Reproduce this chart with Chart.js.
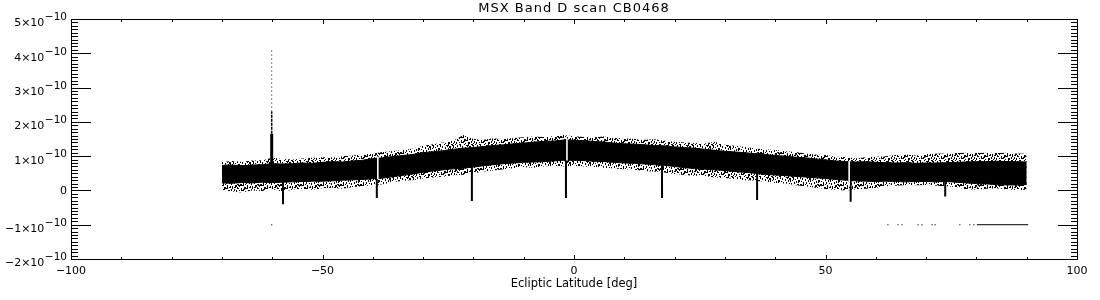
<!DOCTYPE html>
<html><head><meta charset="utf-8">
<script src="https://cdn.jsdelivr.net/npm/chart.js@4.4.1/dist/chart.umd.min.js"></script>
<style>html,body{margin:0;padding:0;background:#fff}canvas{display:block}</style>
</head><body>
<canvas id="c" width="1100" height="300"></canvas>
<script>
// ---------- text / ticks ----------
const chartTitle = 'MSX Band D scan CB0468';
const xAxisTitle = 'Ecliptic Latitude [deg]';
const xTickValues = [-100, -50, 0, 50, 100];
const xTickLabels = ['\u2212100', '\u221250', '0', '50', '100'];
const yTickValues = [-2, -1, 0, 1, 2, 3, 4, 5];          // units of 1e-10
const yTickBase = ['\u22122\u00d710', '\u22121\u00d710', '0', '1\u00d710', '2\u00d710', '3\u00d710', '4\u00d710', '5\u00d710'];
const yTickExp  = ['\u221210', '\u221210', '', '\u221210', '\u221210', '\u221210', '\u221210', '\u221210'];

// ---------- data (values in units of 1e-10) ----------
const lat = [-70,-68,-66,-64,-62,-60,-58,-56,-54,-52,-50,-48,-46,-44,-42,-40,-38,-36,-34,-32,
  -30,-28,-26,-24,-22,-20,-18,-16,-14,-12,-10,-8,-6,-4,-2,0,2,4,6,8,10,12,14,16,18,20,22,24,26,28,
  30,32,34,36,38,40,42,44,46,48,50,52,54,56,58,60,62,64,66,68,70,72,74,76,78,80,82,84,86,88,90];

// dense core of the scan (upper / lower edge)
const coreHigh = [0.73,0.74,0.72,0.74,0.75,0.78,0.77,0.78,0.80,0.79,0.82,0.84,0.83,0.86,0.88,0.93,0.95,0.99,1.02,1.05,
  1.10,1.13,1.16,1.20,1.23,1.25,1.28,1.31,1.33,1.36,1.38,1.41,1.43,1.44,1.47,1.46,1.45,1.43,1.41,1.38,
  1.36,1.35,1.33,1.31,1.30,1.27,1.25,1.23,1.20,1.17,1.14,1.12,1.10,1.07,1.05,1.02,1.00,0.97,0.95,0.92,
  0.89,0.86,0.84,0.83,0.84,0.82,0.81,0.80,0.81,0.79,0.80,0.80,0.81,0.82,0.83,0.84,0.84,0.85,0.84,0.84,0.83];
const coreLow = [0.22,0.21,0.23,0.22,0.24,0.23,0.24,0.25,0.26,0.27,0.27,0.28,0.30,0.31,0.32,0.34,0.36,0.40,0.44,0.48,
  0.53,0.57,0.60,0.63,0.65,0.68,0.72,0.75,0.78,0.80,0.82,0.83,0.84,0.86,0.88,0.88,0.87,0.85,0.84,0.82,
  0.80,0.79,0.77,0.75,0.73,0.70,0.66,0.64,0.62,0.60,0.58,0.55,0.53,0.50,0.47,0.45,0.43,0.41,0.39,0.37,
  0.35,0.32,0.30,0.28,0.27,0.26,0.27,0.26,0.25,0.26,0.26,0.25,0.26,0.24,0.22,0.20,0.19,0.17,0.16,0.16,0.17];

// sparse noise envelope around the core
const noiseHigh = [0.83,0.86,0.84,0.87,0.88,0.95,0.92,0.90,0.93,0.95,0.97,0.96,1.00,1.02,1.05,1.08,1.12,1.15,1.18,1.22,
  1.30,1.35,1.40,1.45,1.62,1.50,1.48,1.52,1.50,1.53,1.55,1.57,1.56,1.58,1.62,1.58,1.56,1.55,1.57,1.53,
  1.52,1.50,1.48,1.49,1.45,1.42,1.40,1.38,1.37,1.42,1.33,1.30,1.27,1.22,1.20,1.18,1.14,1.12,1.08,1.05,
  1.03,0.98,0.97,0.94,0.97,0.98,1.00,1.03,1.05,1.02,1.06,1.08,1.07,1.09,1.10,1.09,1.10,1.09,1.10,1.08,1.07];
const noiseLow = [0.02,-0.03,-0.06,0.00,-0.02,0.04,-0.03,0.02,0.05,0.02,0.06,0.08,0.05,0.10,0.12,0.15,0.18,0.24,0.28,0.30,
  0.35,0.38,0.40,0.44,0.46,0.50,0.55,0.58,0.62,0.65,0.68,0.66,0.70,0.72,0.70,0.72,0.70,0.68,0.66,0.64,
  0.62,0.60,0.57,0.55,0.52,0.48,0.45,0.43,0.42,0.38,0.36,0.33,0.30,0.28,0.25,0.22,0.20,0.15,0.12,0.08,
  0.04,0.02,0.00,0.03,0.05,0.08,0.12,0.14,0.16,0.15,0.16,0.14,0.12,0.10,0.03,0.02,0.05,0.06,0.03,0.01,0.02];

// bright source spike near -60 deg
const spikeLat = -60.1;
const spikeBase = 0.75, spikeDense = 1.65, spikeMid = 2.3, spikeTop = 4.15;

// negative dips (downward streaks)
const dipLat = [-57.85, -39.2, -20.3, -1.6, 17.5, 36.4, 55.0, 73.8];
const dipTop = [0.25, 0.35, 0.68, 0.88, 0.73, 0.50, 0.30, 0.26];
const dipBottom = [-0.40, -0.22, -0.31, -0.22, -0.22, -0.28, -0.33, -0.18];

// data gaps (white columns)
const gapLat = [-39.0, -1.4, 54.7];
const gapTop = [0.99, 1.52, 0.86];
const gapBottom = [0.33, 0.87, 0.12];

// isolated points at -1e-10
const lowPointLat = [-60.1, 62.4, 64.4, 65.2, 68.4, 69.2, 71.2, 71.8, 76.7, 78.7, 79.5];
const lowPointVal = [-1.0, -1.0, -1.0, -1.0, -1.0, -1.0, -1.0, -1.0, -1.0, -1.0, -1.0];
const lowLineLat = [80.1, 90.3];
const lowLineVal = [-1.0, -1.0];

// ---------- helpers ----------
const pts = (xs, ys) => xs.map((x, i) => ({x, y: ys[i]}));
const segs = (xs, lo, hi) => {
  const out = [];
  xs.forEach((x, i) => { out.push({x, y: lo[i]}, {x, y: hi[i]}, {x, y: null}); });
  return out;
};

// streaky stipple pattern (texture only) for the sparse noise region
const tileCols = [
  [[0,3],[8,2]], [[5,1],[8,2],[12,3]], [[2,2],[9,1],[14,1]], [[6,4],[13,2]], [[0,1],[11,3]],
  [[3,2],[8,1],[11,2],[15,1]], [[1,1],[6,2],[12,1]], [[1,2],[9,4]], [[0,2],[4,2],[14,2]], [[2,2],[7,1],[11,1],[14,2]],
  [[2,4],[10,2]], [[0,1],[7,2],[13,2]], [[0,2],[4,1],[10,3]], [[1,3],[15,1]], [[6,2],[11,1],[13,2]],
  [[0,1],[3,1],[9,3]], [[5,2],[9,2],[14,2]], [[1,2],[8,1],[11,2]], [[4,3],[8,2],[12,1]], [[0,1],[4,2],[9,2],[14,1]]
];
const pc = document.createElement('canvas');
pc.width = 20; pc.height = 16;
const pctx = pc.getContext('2d');
pctx.fillStyle = '#000';
tileCols.forEach((col, c) => col.forEach(([r, n]) => pctx.fillRect(c, r, 1, n)));
const stipple = pctx.createPattern(pc, 'repeat');

const FONT = "'DejaVu Sans', sans-serif";
Chart.defaults.font.family = FONT;
Chart.defaults.color = '#000';

const framePlugin = {
  id: 'frame',
  afterDraw(chart) {
    const {ctx, chartArea: a, scales: {x, y}} = chart;
    const L = Math.round(a.left), R = Math.round(a.right), T = Math.round(a.top), B = Math.round(a.bottom);
    ctx.save();
    ctx.fillStyle = '#000';
    ctx.fillRect(L, T, R - L + 1, 1);
    ctx.fillRect(L, B, R - L + 1, 1);
    ctx.fillRect(L, T, 1, B - T + 1);
    ctx.fillRect(R, T, 1, B - T + 1);
    // x ticks: major every 50, minor every 10 (inward, bottom and top)
    for (let v = -100; v <= 100; v += 10) {
      const px = Math.round(x.getPixelForValue(v));
      const len = (v % 50 === 0) ? 5 : 3;
      ctx.fillRect(px, B - len + 1, 1, len);
      ctx.fillRect(px, T, 1, len);
    }
    // y ticks: major every 1, minor every 0.1 (inward, left and right)
    for (let k = -20; k <= 50; k++) {
      const py = Math.round(y.getPixelForValue(k / 10));
      const len = (k % 10 === 0) ? 20 : 7;
      ctx.fillRect(L, py, len, 1);
      ctx.fillRect(R - len + 1, py, len, 1);
    }
    // y tick labels with raised exponent
    ctx.textAlign = 'right';
    ctx.textBaseline = 'middle';
    const xr = L - 4;
    yTickValues.forEach((v, i) => {
      const py = y.getPixelForValue(v);
      if (yTickExp[i]) {
        ctx.font = '10.5px ' + FONT;
        const w = ctx.measureText(yTickExp[i]).width;
        ctx.fillText(yTickExp[i], xr, py - 1.5);
        ctx.font = '11px ' + FONT;
        ctx.fillText(yTickBase[i], xr - w - 0.5, py + 4.5);
      } else {
        ctx.font = '11px ' + FONT;
        ctx.fillText(yTickBase[i], xr, py + 0.5);
      }
    });
    // title
    ctx.font = '13px ' + FONT;
    try { ctx.letterSpacing = '1px'; } catch (e) {}
    ctx.textAlign = 'center';
    ctx.textBaseline = 'middle';
    ctx.fillText(chartTitle, (a.left + a.right) / 2, 9);
    ctx.restore();
  }
};

new Chart(document.getElementById('c'), {
  type: 'line',
  data: {
    datasets: [
      {data: pts(lat, noiseLow), borderColor: 'rgba(0,0,0,0)', borderWidth: 1, pointRadius: 0, fill: false, order: 5},
      {data: pts(lat, noiseHigh), borderColor: 'rgba(0,0,0,0)', borderWidth: 1, pointRadius: 0, fill: '-1', backgroundColor: stipple, order: 5},
      {data: pts(lat, coreLow), borderColor: '#000', borderWidth: 1, pointRadius: 0, fill: false, order: 4},
      {data: pts(lat, coreHigh), borderColor: '#000', borderWidth: 1, pointRadius: 0, fill: '-1', backgroundColor: '#000', order: 4},
      {data: segs(dipLat, dipBottom, dipTop), borderColor: '#000', borderWidth: 2, pointRadius: 0, spanGaps: false, borderCapStyle: 'butt', order: 3},
      {data: segs(gapLat, gapBottom, gapTop), borderColor: '#fff', borderWidth: 1.6, pointRadius: 0, spanGaps: false, borderCapStyle: 'butt', order: 2},
      {data: segs([spikeLat], [spikeBase], [spikeDense]), borderColor: '#000', borderWidth: 3, pointRadius: 0, borderCapStyle: 'butt', order: 3},
      {data: segs([spikeLat], [spikeDense], [spikeMid]), borderColor: '#000', borderWidth: 1.5, borderDash: [3, 1], pointRadius: 0, borderCapStyle: 'butt', order: 3},
      {data: segs([spikeLat], [spikeMid], [spikeTop]), borderColor: '#000', borderWidth: 1, borderDash: [1, 3], pointRadius: 0, borderCapStyle: 'butt', order: 3},
      {data: pts(lowPointLat, lowPointVal), showLine: false, pointRadius: 0.8, pointStyle: 'rect', pointBorderWidth: 0, pointBackgroundColor: '#000', pointBorderColor: '#000', order: 1},
      {data: pts(lowLineLat, lowLineVal), borderColor: '#000', borderWidth: 1, pointRadius: 0, order: 1}
    ]
  },
  options: {
    responsive: false,
    animation: false,
    devicePixelRatio: 1,
    layout: {padding: {left: 0, right: 23, top: 19, bottom: 0}},
    plugins: {legend: {display: false}, tooltip: {enabled: false}, title: {display: false}},
    elements: {line: {tension: 0}},
    scales: {
      x: {
        type: 'linear', min: -100, max: 100, offset: false,
        grid: {display: false, drawTicks: false}, border: {display: false},
        ticks: {
          stepSize: 50, autoSkip: false, maxRotation: 0, padding: 6,
          font: {size: 11},
          callback: (v) => { const i = xTickValues.indexOf(v); return i >= 0 ? xTickLabels[i] : ''; }
        },
        title: {display: true, text: xAxisTitle, font: {size: 11.5}, padding: {top: 0, bottom: 9}},
        afterFit: (s) => { s.height = 41; }
      },
      y: {
        type: 'linear', min: -2, max: 5,
        grid: {display: false, drawTicks: false}, border: {display: false},
        ticks: {display: false, stepSize: 1},
        afterFit: (s) => { s.width = 71; }
      }
    }
  },
  plugins: [framePlugin]
});
</script>
</body></html>
